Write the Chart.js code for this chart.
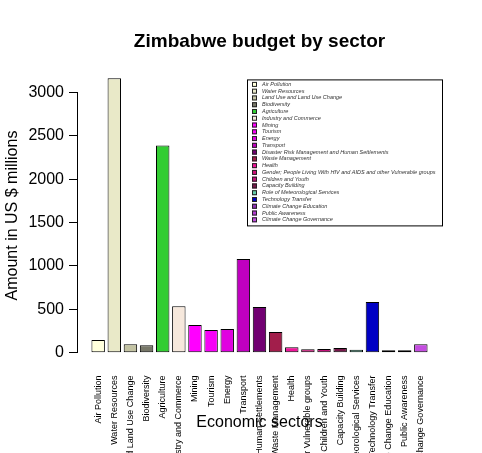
<!DOCTYPE html>
<html>
<head>
<meta charset="utf-8">
<script src="https://cdn.jsdelivr.net/npm/chart.js@4"></script>
<style>
	html, body { margin: 0; padding: 0; background: #fff; }
	#wrap { width: 482px; height: 453px; }
</style>
</head>
<body>
<div id="wrap"><canvas id="budget" width="482" height="453"></canvas></div>
<script>
const sectors = [
	'Air Pollution',
	'Water Resources',
	'Land Use and Land Use Change',
	'Biodiversity',
	'Agriculture',
	'Industry and Commerce',
	'Mining',
	'Tourism',
	'Energy',
	'Transport',
	'Disaster Risk Management and Human Settlements',
	'Waste Management',
	'Health',
	'Gender; People Living With HIV and AIDS and other Vulnerable groups',
	'Children and Youth',
	'Capacity Building',
	'Role of Meteorological Services',
	'Technology Transfer',
	'Climate Change Education',
	'Public Awareness',
	'Climate Change Governance',
]
const amounts = [145, 3165, 96, 84, 2390, 535, 319, 261, 272, 1080, 527, 238, 61, 38, 42, 53, 33, 584, 27, 27, 96]
const sectorColors = [
	'#FFFFDC', '#E9E9C8', '#C3C3A3', '#777768', '#32CD32', '#F6E8DC', '#FF00FF',
	'#F700F7', '#E000E0', '#C000C0', '#720072', '#A21E4B', '#F0149A', '#CF107A',
	'#C2117A', '#76184A', '#66CDAA', '#0000C4', '#8E30B4', '#B33CD2', '#C44DE0',
]
const yTicks = [0, 500, 1000, 1500, 2000, 2500, 3000]

const maxAmount = Math.max(...amounts)

//legend box drawn inside the plot like the R one
const boxLegend = {
	id: 'boxLegend',
	afterDraw: chart => {
		const ctx = chart.ctx
		const area = chart.chartArea
		const right = area.right + 2
		const left = right - 196
		const y0 = area.top + 12
		const h = 147
		const step = 6.77

		ctx.save()
		ctx.fillStyle = '#fff'
		ctx.fillRect(left, y0, right - left, h)
		ctx.strokeStyle = '#000'
		ctx.lineWidth = 1
		ctx.strokeRect(left + 0.5, y0 + 0.5, right - left - 1, h - 1)

		ctx.font = 'italic 5.5px "Liberation Sans", Arial, sans-serif'
		ctx.textBaseline = 'middle'
		sectors.forEach((s, i) => {
			const cy = y0 + 5 + i * step
			ctx.fillStyle = sectorColors[i]
			ctx.fillRect(left + 5, cy - 2.5, 5, 5)
			ctx.strokeStyle = '#222'
			ctx.strokeRect(left + 5.5, cy - 2, 4, 4)
			ctx.fillStyle = '#333'
			ctx.fillText(s, left + 15, cy)
		})
		ctx.restore()
	},
}

//R style y axis line, only from first to last tick
const yAxisLine = {
	id: 'yAxisLine',
	afterDraw: chart => {
		const y = chart.scales.y
		const ctx = chart.ctx
		const x = Math.round(chart.chartArea.left) - 0.5
		ctx.save()
		ctx.strokeStyle = '#000'
		ctx.lineWidth = 1
		ctx.beginPath()
		ctx.moveTo(x, y.getPixelForValue(yTicks[0]))
		ctx.lineTo(x, y.getPixelForValue(yTicks[yTicks.length - 1]))
		ctx.stroke()
		ctx.restore()
	},
}

Chart.defaults.font.family = '"Liberation Sans", Arial, sans-serif'
Chart.defaults.color = '#000'

new Chart(document.querySelector('#budget').getContext('2d'), {
	type: 'bar',
	data: {
		datasets: [
			{
				data: amounts.map((v, i) => ({ x: i, y: v })),
				backgroundColor: sectorColors,
				borderColor: '#000',
				borderWidth: 1,
				borderSkipped: false,
				barPercentage: 1,
				categoryPercentage: 1 / 1.2,
			},
		],
	},
	options: {
		responsive: false,
		animation: false,
		layout: { padding: { left: 0, right: 41, top: 0, bottom: 0 } },
		plugins: {
			legend: { display: false },
			tooltip: { enabled: false },
			title: {
				display: true,
				fullSize: false,
				text: 'Zimbabwe budget by sector',
				font: { size: 19, weight: 'bold' },
				padding: { top: 30, bottom: 14.6 },
			},
		},
		scales: {
			x: {
				type: 'linear',
				offset: false,
				min: -1.25,
				max: sectors.length + 0.25,
				grid: { display: false, drawTicks: false },
				border: { display: false },
				afterBuildTicks: scale => {
					scale.ticks = sectors.map((s, i) => ({ value: i }))
				},
				afterFit: scale => {
					scale.height = 89.4
				},
				ticks: {
					autoSkip: false,
					minRotation: 90,
					maxRotation: 90,
					padding: 12,
					font: { size: 9 },
					callback: v => sectors[v],
				},
				title: {
					display: true,
					text: 'Economic sectors',
					font: { size: 16 },
					padding: { top: 0, bottom: 20.4 },
				},
			},
			y: {
				min: -0.04 * maxAmount,
				max: 1.04 * maxAmount,
				grid: {
					display: true,
					drawOnChartArea: false,
					drawTicks: true,
					tickLength: 9,
					color: '#000',
				},
				border: { display: false },
				afterBuildTicks: scale => {
					scale.ticks = yTicks.map(v => ({ value: v }))
				},
				afterFit: scale => {
					scale.width = 78
				},
				ticks: {
					padding: 5,
					font: { size: 16 },
					callback: v => String(v),
				},
				title: {
					display: true,
					text: 'Amount in US $ millions',
					font: { size: 16 },
					padding: { top: 3, bottom: 0 },
				},
			},
		},
	},
	plugins: [boxLegend, yAxisLine],
})
</script>
</body>
</html>
